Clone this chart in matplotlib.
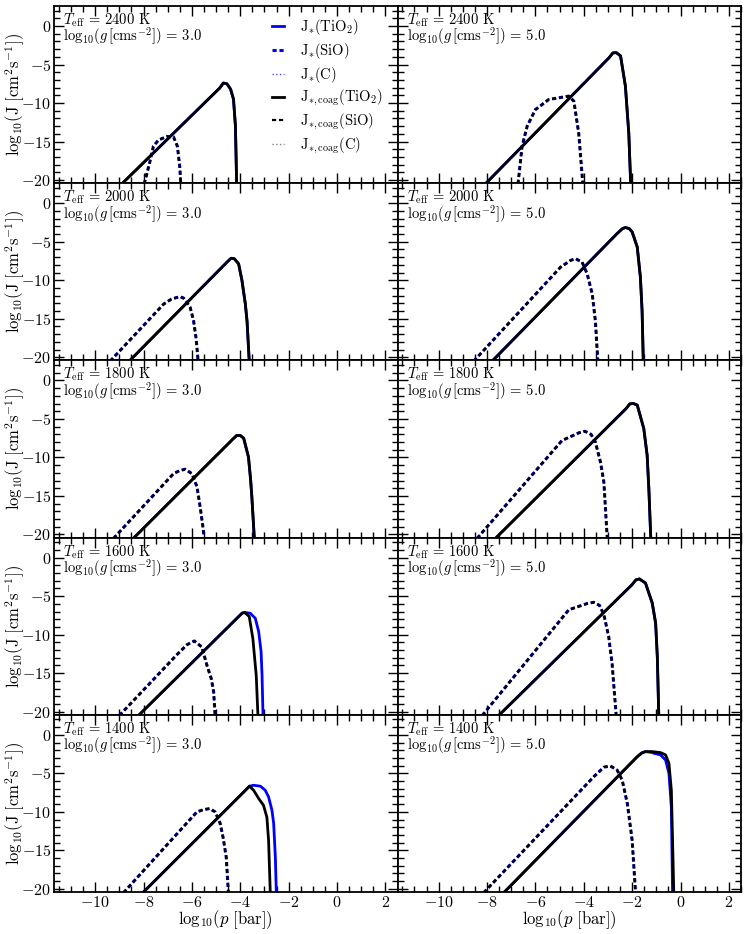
import matplotlib
matplotlib.use('Agg')
import matplotlib.pyplot as plt
from matplotlib.ticker import MultipleLocator

plt.rcParams['font.family'] = 'serif'
plt.rcParams['font.serif'] = ['cmr10']
plt.rcParams['mathtext.fontset'] = 'cm'
plt.rcParams['axes.formatter.use_mathtext'] = True
plt.rcParams['font.size'] = 11
plt.rcParams['lines.scale_dashes'] = False

# panels, row by row: (Teff, log g)
teff = [2400, 2400, 2000, 2000, 1800, 1800, 1600, 1600, 1400, 1400]
logg = [3.0, 5.0, 3.0, 5.0, 3.0, 5.0, 3.0, 5.0, 3.0, 5.0]

# J_*(TiO2): log10(p) and log10(J)
p_tio2 = [
    [-8.9, -4.85, -4.7, -4.55, -4.4, -4.28, -4.2, -4.15],
    [-8.07, -2.95, -2.8, -2.66, -2.48, -2.28, -2.14, -2.06],
    [-8.59, -4.55, -4.38, -4.25, -4.07, -3.93, -3.79, -3.72, -3.63],
    [-7.79, -2.62, -2.4, -2.28, -2.12, -2.0, -1.79, -1.66, -1.59, -1.54],
    [-8.42, -4.3, -4.15, -4.0, -3.86, -3.66, -3.57, -3.52, -3.42],
    [-7.65, -2.25, -2.1, -1.95, -1.79, -1.52, -1.38, -1.31, -1.23],
    [-8.21, -4.05, -3.92, -3.82, -3.59, -3.38, -3.24, -3.14, -3.10, -3.06],
    [-7.52, -2.0, -1.85, -1.7, -1.45, -1.17, -1.03, -0.96, -0.9],
    [-8.03, -3.85, -3.62, -3.45, -3.17, -2.97, -2.83, -2.69, -2.62, -2.55, -2.51],
    [-7.31, -1.79, -1.6, -1.45, -1.17, -1.1, -0.83, -0.62, -0.48, -0.38, -0.33],
]
J_tio2 = [
    [-20.5, -8.05, -7.4, -7.5, -8.2, -9.5, -13.0, -20.5],
    [-20.5, -4.1, -3.5, -3.45, -3.88, -7.8, -13.9, -20.5],
    [-20.5, -7.65, -7.15, -7.2, -7.86, -10.04, -13.1, -15.3, -20.5],
    [-20.5, -3.93, -3.3, -3.15, -3.3, -3.73, -5.69, -9.6, -13.96, -20.5],
    [-20.5, -7.6, -7.15, -7.15, -7.5, -9.96, -13.0, -15.2, -20.5],
    [-20.5, -3.65, -3.05, -3.0, -3.2, -6.25, -9.74, -14.1, -20.5],
    [-20.5, -7.6, -7.2, -7.12, -7.22, -7.87, -9.6, -12.2, -15.3, -20.5],
    [-20.5, -3.5, -2.9, -2.77, -3.3, -5.9, -8.5, -12.9, -20.5],
    [-20.5, -7.4, -6.67, -6.55, -6.67, -7.19, -8.06, -9.8, -11.5, -15.9, -20.5],
    [-20.5, -2.84, -2.35, -2.18, -2.3, -2.4, -2.6, -3.27, -5.0, -9.4, -20.5],
]

# J_*,coag(TiO2): None where it is the same as J_*(TiO2)
p_tio2_coag = [
    None, None, None, None, None, None,
    [-8.21, -4.05, -3.92, -3.82, -3.63, -3.48, -3.34, -3.27],
    None,
    [-8.03, -3.85, -3.62, -3.45, -3.24, -3.04, -2.9, -2.83, -2.76],
    [-7.31, -1.79, -1.6, -1.45, -1.17, -0.83, -0.62, -0.48, -0.38, -0.33, -0.28],
]
J_tio2_coag = [
    None, None, None, None, None, None,
    [-20.5, -7.6, -7.2, -7.12, -7.65, -10.5, -15.3, -20.5],
    None,
    [-20.5, -7.4, -6.67, -7.19, -8.27, -9.15, -10.7, -13.7, -20.5],
    [-20.5, -2.84, -2.35, -2.18, -2.18, -2.31, -2.6, -3.7, -7.2, -13.7, -20.5],
]

# J_*(SiO) (J_*,coag(SiO) is the same)
p_sio = [
    [-7.97, -7.75, -7.59, -7.38, -7.03, -6.76, -6.6, -6.5, -6.46],
    [-6.72, -6.55, -6.34, -6.0, -5.45, -5.0, -4.62, -4.41, -4.21, -4.04],
    [-9.38, -7.17, -6.85, -6.51, -6.35, -6.21, -6.07, -5.93, -5.83, -5.74],
    [-8.55, -4.96, -4.55, -4.34, -4.07, -3.86, -3.65, -3.52, -3.42],
    [-9.24, -6.76, -6.5, -6.28, -6.0, -5.79, -5.66, -5.54, -5.49],
    [-8.41, -4.9, -4.2, -3.96, -3.7, -3.52, -3.31, -3.17, -3.03],
    [-9.0, -6.62, -6.2, -5.9, -5.59, -5.38, -5.2, -5.1, -5.04],
    [-8.2, -4.62, -3.85, -3.59, -3.35, -3.17, -2.97, -2.83, -2.66],
    [-8.83, -5.79, -5.5, -5.27, -5.04, -4.83, -4.7, -4.58, -4.49],
    [-8.14, -3.59, -3.17, -2.9, -2.62, -2.41, -2.2, -2.0, -1.86],
]
J_sio = [
    [-20.5, -17.8, -15.6, -14.8, -14.34, -14.4, -15.6, -18.3, -20.5],
    [-20.5, -15.6, -13.0, -10.85, -9.54, -9.3, -9.1, -9.76, -13.9, -20.5],
    [-20.5, -13.1, -12.45, -12.13, -12.3, -12.88, -13.53, -15.27, -17.45, -20.5],
    [-20.5, -8.3, -7.43, -7.2, -7.65, -9.16, -11.8, -15.3, -20.5],
    [-20.5, -12.1, -11.7, -11.53, -12.1, -13.8, -16.4, -19.1, -20.5],
    [-20.5, -7.8, -6.8, -6.6, -7.0, -8.0, -10.6, -13.2, -20.5],
    [-20.5, -12.6, -11.3, -10.82, -11.6, -13.96, -15.7, -17.45, -20.5],
    [-20.5, -6.77, -5.95, -5.8, -6.2, -7.4, -10.26, -13.75, -20.5],
    [-20.5, -10.0, -9.7, -9.58, -10.0, -11.5, -13.5, -15.9, -20.5],
    [-20.5, -5.45, -4.2, -4.05, -4.58, -5.9, -8.93, -13.7, -20.5],
]

fig, axes = plt.subplots(5, 2, figsize=(7.47, 9.34), dpi=100, sharex=True, sharey=True)
fig.subplots_adjust(left=0.0723, right=0.992, top=0.9936, bottom=0.045, hspace=0, wspace=0)

dash = (3, 2)
for i, ax in enumerate(axes.flat):
    ax.plot(p_tio2[i], J_tio2[i], color='b', lw=2, label=r'$\mathrm{J}_{\ast}(\mathrm{TiO}_2)$')
    ax.plot(p_sio[i], J_sio[i], color='b', lw=2.2, dashes=dash, label=r'$\mathrm{J}_{\ast}(\mathrm{SiO})$')
    ax.plot([], [], color='b', lw=1, ls=':', alpha=0.7, label=r'$\mathrm{J}_{\ast}(\mathrm{C})$')
    if p_tio2_coag[i] is None:
        ax.plot(p_tio2[i], J_tio2[i], color='k', lw=2,
                label=r'$\mathrm{J}_{\ast,\mathrm{coag}}(\mathrm{TiO}_2)$')
    else:
        ax.plot(p_tio2_coag[i], J_tio2_coag[i], color='k', lw=2,
                label=r'$\mathrm{J}_{\ast,\mathrm{coag}}(\mathrm{TiO}_2)$')
    ax.plot(p_sio[i], J_sio[i], color='k', lw=1.6, dashes=dash,
            label=r'$\mathrm{J}_{\ast,\mathrm{coag}}(\mathrm{SiO})$')
    ax.plot([], [], color='gray', lw=1, ls=':', label=r'$\mathrm{J}_{\ast,\mathrm{coag}}(\mathrm{C})$')

    ax.text(0.027, 0.895, r'$T_{\rm eff}$ = %d K' % teff[i], transform=ax.transAxes,
            va='baseline', fontsize=10.5)
    ax.text(0.027, 0.802, r'${\rm log}_{10}(g\,[\mathrm{cms}^{-2}])$ = %.1f' % logg[i],
            transform=ax.transAxes, va='baseline', fontsize=10.5)

    ax.set_xlim(-11.7, 2.5)
    ax.set_ylim(-20.4, 2.6)
    ax.xaxis.set_major_locator(MultipleLocator(2))
    ax.xaxis.set_minor_locator(MultipleLocator(0.5))
    ax.yaxis.set_major_locator(MultipleLocator(5))
    ax.yaxis.set_minor_locator(MultipleLocator(1))
    ax.tick_params(which='both', direction='in', top=True, right=True, labelsize=11.5, pad=2)
    ax.tick_params(which='major', length=7, width=1)
    ax.tick_params(which='minor', length=4, width=1)
    for s in ax.spines.values():
        s.set_linewidth(1.3)

    if i % 2 == 0:
        ax.set_ylabel(r'${\rm log}_{10}(\mathrm{J}\ [\mathrm{cm}^2\mathrm{s}^{-1}])$', fontsize=12)
        ax.yaxis.set_label_coords(-0.08, 0.5)
    if i >= 8:
        ax.set_xlabel(r'${\rm log}_{10}(p\ [\mathrm{bar}])$', fontsize=12)
        ax.xaxis.set_label_coords(0.5, -0.092)

axes[0, 0].legend(loc='upper right', frameon=False, fontsize=10.5, handlelength=0.8,
                  handletextpad=1.1, labelspacing=0.25, borderaxespad=0, borderpad=0,
                  bbox_to_anchor=(0.958, 0.935))

fig.savefig('out.png', dpi=100)
